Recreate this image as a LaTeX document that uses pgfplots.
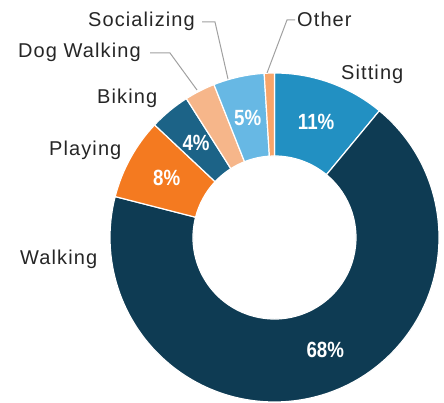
\documentclass[border=0pt]{standalone}
\usepackage{pgfplots}
\pgfplotsset{compat=1.18}
\usepackage{pgfplotstable}
\usepackage{fontspec}
\setmainfont{Liberation Sans}[LetterSpace=5.5]
\newfontfamily\pctfont{Liberation Sans}[FakeStretch=0.85]

\definecolor{slice0}{HTML}{2290C2} % Sitting
\definecolor{slice1}{HTML}{0E3B53} % Walking
\definecolor{slice2}{HTML}{F47A20} % Playing
\definecolor{slice3}{HTML}{1C6387} % Biking
\definecolor{slice4}{HTML}{F6B68A} % Dog Walking
\definecolor{slice5}{HTML}{67B8E4} % Socializing
\definecolor{slice6}{HTML}{F7A56A} % Other
\definecolor{txtgray}{HTML}{262626}
\definecolor{leadgray}{HTML}{A0A0A0}

\tikzset{
    lbl/.style={anchor=base west, inner sep=0pt, text=txtgray,
        font=\fontsize{20}{24}\selectfont},
    pct/.style={anchor=center, inner sep=0pt, text=white,
        font=\pctfont\bfseries\fontsize{22}{26}\selectfont},
}

% share of each activity, clockwise from 12 o'clock
\pgfplotstableread{
label value shift
Sitting 11 0
Walking 68 6.4
Playing 8 0
Biking 4 0
DogWalking 3 0
Socializing 5 0
Other 1 0
}\usagedata

\def\cx{274.5}\def\cy{165.5}\def\Ro{164.5}\def\Ri{81.5}
\def\wedges{}\def\pcts{}\def\cum{0}
\pgfplotsforeachungrouped \i in {0,...,6}{%
  \pgfplotstablegetelem{\i}{value}\of\usagedata\let\val\pgfplotsretval
  \pgfplotstablegetelem{\i}{shift}\of\usagedata\let\shf\pgfplotsretval
  \pgfmathsetmacro\sa{90-3.6*\cum}%
  \pgfmathsetmacro\cum{\cum+\val}%
  \pgfmathsetmacro\ea{90-3.6*\cum}%
  \pgfmathsetmacro\xa{\cx+\Ro*cos(\sa)}%
  \pgfmathsetmacro\ya{\cy+\Ro*sin(\sa)}%
  \pgfmathsetmacro\xb{\cx+\Ri*cos(\ea)}%
  \pgfmathsetmacro\yb{\cy+\Ri*sin(\ea)}%
  \pgfmathsetmacro\md{(\sa+\ea)/2+\shf}%
  \pgfmathsetmacro\xm{\cx+123*cos(\md)}%
  \pgfmathsetmacro\ym{\cy+123*sin(\md)}%
  \edef\wedges{\unexpanded\expandafter{\wedges}%
    \noexpand\fill[overlay, slice\i, draw=white, line width=1.2pt, line join=round]
      (axis cs:\xa,\ya) arc[start angle=\sa, end angle=\ea, radius=\Ro pt]
      -- (axis cs:\xb,\yb) arc[start angle=\ea, end angle=\sa, radius=\Ri pt] -- cycle;}%
  \ifnum\val>3
    \edef\pcts{\unexpanded\expandafter{\pcts}%
      \noexpand\node[pct] at (axis cs:\xm,\ym) {\val\noexpand\%};}%
  \fi
}

\begin{document}
\begin{tikzpicture}
\begin{axis}[
    x=1pt, y=1pt,
    xmin=0, xmax=444, ymin=0, ymax=403,
    hide axis, clip=false,
]
\path (axis cs:0,0) rectangle (axis cs:444,403);
\wedges
\pcts
% leader lines for the thin slices
\draw[leadgray, line width=1pt] (axis cs:150,350) -- (axis cs:170,350) -- (axis cs:197,313);
\draw[leadgray, line width=1pt] (axis cs:202,381) -- (axis cs:215,381) -- (axis cs:228,324);
\draw[leadgray, line width=1pt] (axis cs:295,383) -- (axis cs:287,383) -- (axis cs:267,330);
% category labels
\node[lbl] at (axis cs:341,323) {Sitting};
\node[lbl] at (axis cs:20,138) {Walking};
\node[lbl] at (axis cs:49,247) {Playing};
\node[lbl] at (axis cs:97,299) {Biking};
\node[lbl] at (axis cs:18,345) {Dog Walking};
\node[lbl] at (axis cs:88,376) {Socializing};
\node[lbl] at (axis cs:297,376) {Other};
\end{axis}
\end{tikzpicture}
\end{document}
